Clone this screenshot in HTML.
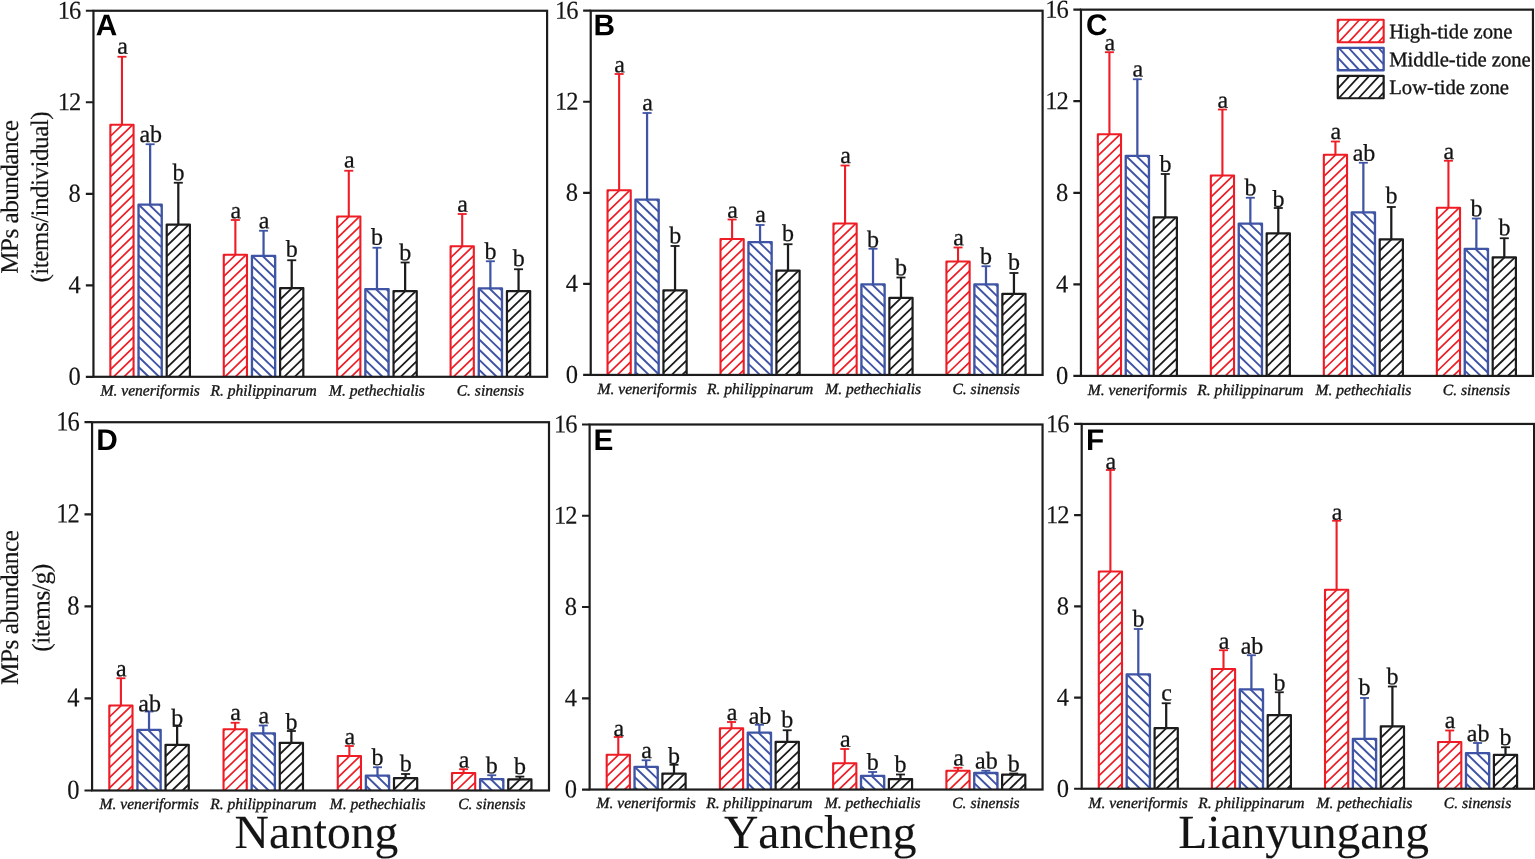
<!DOCTYPE html>
<html lang="en"><head><meta charset="utf-8"><title>MPs abundance in bivalves</title>
<style>html,body{margin:0;padding:0;background:#fff;}body{width:1535px;height:859px;overflow:hidden;}svg{display:block;}text{font-family:'Liberation Serif', 'Times New Roman', serif;fill:#141414;stroke:#141414;stroke-width:0.35px;stroke-linejoin:round;font-kerning:none;}.tk{font-size:25.8px;text-anchor:end;letter-spacing:-1.1px;stroke-width:0.15px;}.lt{font-size:24px;text-anchor:middle;stroke-width:0.25px;}.xl{font-size:15.55px;font-style:italic;text-anchor:middle;}.yl{font-size:24px;text-anchor:middle;stroke-width:0.15px;}.pl{font-family:'Liberation Sans', Arial, sans-serif;font-weight:bold;font-size:29.8px;fill:#000;stroke:none;}.lg{font-size:20.65px;}.ct{font-size:47.5px;text-anchor:middle;stroke-width:0.12px;}</style></head><body>
<svg width="1535" height="859" viewBox="0 0 1535 859">
<rect width="1535" height="859" fill="#fff"/>
<g id="panel-A">
<path d="M121.96 124.8V56.35" stroke="#ee1c25" stroke-width="2.1" fill="none"/><path d="M117.46 56.75H126.46" stroke="#ee1c25" stroke-width="1.8" fill="none"/>
<path d="M110.36 126.1L111.7 124.8M110.36 136.25L122.16 124.8M110.36 146.4L132.63 124.8M110.36 156.55L133.56 134.05M110.36 166.7L133.56 144.2M110.36 176.85L133.56 154.35M110.36 187L133.56 164.5M110.36 197.15L133.56 174.65M110.36 207.3L133.56 184.8M110.36 217.45L133.56 194.95M110.36 227.6L133.56 205.1M110.36 237.75L133.56 215.25M110.36 247.9L133.56 225.4M110.36 258.05L133.56 235.55M110.36 268.2L133.56 245.7M110.36 278.35L133.56 255.85M110.36 288.5L133.56 266M110.36 298.65L133.56 276.15M110.36 308.8L133.56 286.3M110.36 318.95L133.56 296.45M110.36 329.1L133.56 306.6M110.36 339.25L133.56 316.75M110.36 349.4L133.56 326.9M110.36 359.55L133.56 337.05M110.36 369.7L133.56 347.2M113.5 376.8L133.56 357.35M123.97 376.8L133.56 367.5" stroke="#ee1c25" stroke-width="1.7" fill="none"/>
<path d="M110.36 376.8V124.8H133.56V376.8" stroke="#ee1c25" stroke-width="2.1" fill="none" stroke-linejoin="round"/>
<text class="lt" transform="translate(122.46 53.75) rotate(0.03)">a</text>
<path d="M150.14 204.55V143.85" stroke="#3f54a5" stroke-width="2.25" fill="none"/><path d="M145.64 144.25H154.64" stroke="#3f54a5" stroke-width="1.8" fill="none"/>
<path d="M159.46 204.55L161.74 206.75M149 204.55L161.74 216.9M138.54 204.55L161.74 227.05M138.54 214.7L161.74 237.2M138.54 224.85L161.74 247.35M138.54 235L161.74 257.5M138.54 245.15L161.74 267.65M138.54 255.3L161.74 277.8M138.54 265.45L161.74 287.95M138.54 275.6L161.74 298.1M138.54 285.75L161.74 308.25M138.54 295.9L161.74 318.4M138.54 306.05L161.74 328.55M138.54 316.2L161.74 338.7M138.54 326.35L161.74 348.85M138.54 336.5L161.74 359M138.54 346.65L161.74 369.15M138.54 356.8L159.15 376.8M138.54 366.95L148.69 376.8" stroke="#3f54a5" stroke-width="1.9" fill="none"/>
<path d="M138.54 376.8V204.55H161.74V376.8" stroke="#3f54a5" stroke-width="2.35" fill="none" stroke-linejoin="round"/>
<text class="lt" transform="translate(150.74 141.95) rotate(0.03)">ab</text>
<path d="M178.31 224.55V182.35" stroke="#1c1c1c" stroke-width="2.25" fill="none"/><path d="M173.81 182.75H182.81" stroke="#1c1c1c" stroke-width="1.8" fill="none"/>
<path d="M166.71 225.85L168.05 224.55M166.71 236L178.52 224.55M166.71 246.15L188.98 224.55M166.71 256.3L189.91 233.8M166.71 266.45L189.91 243.95M166.71 276.6L189.91 254.1M166.71 286.75L189.91 264.25M166.71 296.9L189.91 274.4M166.71 307.05L189.91 284.55M166.71 317.2L189.91 294.7M166.71 327.35L189.91 304.85M166.71 337.5L189.91 315M166.71 347.65L189.91 325.15M166.71 357.8L189.91 335.3M166.71 367.95L189.91 345.45M168.05 376.8L189.91 355.6M178.52 376.8L189.91 365.75M188.98 376.8L189.91 375.9" stroke="#1c1c1c" stroke-width="1.8" fill="none"/>
<path d="M166.71 376.8V224.55H189.91V376.8" stroke="#1c1c1c" stroke-width="2.2" fill="none" stroke-linejoin="round"/>
<text class="lt" transform="translate(178.41 180.15) rotate(0.03)">b</text>
<path d="M235.37 254.8V219.6" stroke="#ee1c25" stroke-width="2.1" fill="none"/><path d="M230.87 220H239.87" stroke="#ee1c25" stroke-width="1.8" fill="none"/>
<path d="M223.77 256.1L225.11 254.8M223.77 266.25L235.58 254.8M223.77 276.4L246.04 254.8M223.77 286.55L246.97 264.05M223.77 296.7L246.97 274.2M223.77 306.85L246.97 284.35M223.77 317L246.97 294.5M223.77 327.15L246.97 304.65M223.77 337.3L246.97 314.8M223.77 347.45L246.97 324.95M223.77 357.6L246.97 335.1M223.77 367.75L246.97 345.25M224.91 376.8L246.97 355.4M235.37 376.8L246.97 365.55M245.83 376.8L246.97 375.7" stroke="#ee1c25" stroke-width="1.7" fill="none"/>
<path d="M223.77 376.8V254.8H246.97V376.8" stroke="#ee1c25" stroke-width="2.1" fill="none" stroke-linejoin="round"/>
<text class="lt" transform="translate(235.87 218.15) rotate(0.03)">a</text>
<path d="M263.55 255.8V230.35" stroke="#3f54a5" stroke-width="2.25" fill="none"/><path d="M259.05 230.75H268.05" stroke="#3f54a5" stroke-width="1.8" fill="none"/>
<path d="M272.88 255.8L275.15 258M262.41 255.8L275.15 268.15M251.95 255.8L275.15 278.3M251.95 265.95L275.15 288.45M251.95 276.1L275.15 298.6M251.95 286.25L275.15 308.75M251.95 296.4L275.15 318.9M251.95 306.55L275.15 329.05M251.95 316.7L275.15 339.2M251.95 326.85L275.15 349.35M251.95 337L275.15 359.5M251.95 347.15L275.15 369.65M251.95 357.3L272.05 376.8M251.95 367.45L261.59 376.8" stroke="#3f54a5" stroke-width="1.9" fill="none"/>
<path d="M251.95 376.8V255.8H275.15V376.8" stroke="#3f54a5" stroke-width="2.35" fill="none" stroke-linejoin="round"/>
<text class="lt" transform="translate(264.05 228.15) rotate(0.03)">a</text>
<path d="M291.72 288.05V259.85" stroke="#1c1c1c" stroke-width="2.25" fill="none"/><path d="M287.22 260.25H296.22" stroke="#1c1c1c" stroke-width="1.8" fill="none"/>
<path d="M280.12 289.35L281.47 288.05M280.12 299.5L291.93 288.05M280.12 309.65L302.39 288.05M280.12 319.8L303.32 297.3M280.12 329.95L303.32 307.45M280.12 340.1L303.32 317.6M280.12 350.25L303.32 327.75M280.12 360.4L303.32 337.9M280.12 370.55L303.32 348.05M284.15 376.8L303.32 358.2M294.61 376.8L303.32 368.35" stroke="#1c1c1c" stroke-width="1.8" fill="none"/>
<path d="M280.12 376.8V288.05H303.32V376.8" stroke="#1c1c1c" stroke-width="2.2" fill="none" stroke-linejoin="round"/>
<text class="lt" transform="translate(291.82 256.65) rotate(0.03)">b</text>
<path d="M348.78 216.55V170.35" stroke="#ee1c25" stroke-width="2.1" fill="none"/><path d="M344.28 170.75H353.28" stroke="#ee1c25" stroke-width="1.8" fill="none"/>
<path d="M337.18 217.85L338.53 216.55M337.18 228L348.99 216.55M337.18 238.15L359.45 216.55M337.18 248.3L360.38 225.8M337.18 258.45L360.38 235.95M337.18 268.6L360.38 246.1M337.18 278.75L360.38 256.25M337.18 288.9L360.38 266.4M337.18 299.05L360.38 276.55M337.18 309.2L360.38 286.7M337.18 319.35L360.38 296.85M337.18 329.5L360.38 307M337.18 339.65L360.38 317.15M337.18 349.8L360.38 327.3M337.18 359.95L360.38 337.45M337.18 370.1L360.38 347.6M340.74 376.8L360.38 357.75M351.21 376.8L360.38 367.9" stroke="#ee1c25" stroke-width="1.7" fill="none"/>
<path d="M337.18 376.8V216.55H360.38V376.8" stroke="#ee1c25" stroke-width="2.1" fill="none" stroke-linejoin="round"/>
<text class="lt" transform="translate(349.28 167.45) rotate(0.03)">a</text>
<path d="M376.96 289.05V247.35" stroke="#3f54a5" stroke-width="2.25" fill="none"/><path d="M372.46 247.75H381.46" stroke="#3f54a5" stroke-width="1.8" fill="none"/>
<path d="M386.29 289.05L388.56 291.25M375.83 289.05L388.56 301.4M365.36 289.05L388.56 311.55M365.36 299.2L388.56 321.7M365.36 309.35L388.56 331.85M365.36 319.5L388.56 342M365.36 329.65L388.56 352.15M365.36 339.8L388.56 362.3M365.36 349.95L388.56 372.45M365.36 360.1L382.58 376.8M365.36 370.25L372.11 376.8" stroke="#3f54a5" stroke-width="1.9" fill="none"/>
<path d="M365.36 376.8V289.05H388.56V376.8" stroke="#3f54a5" stroke-width="2.35" fill="none" stroke-linejoin="round"/>
<text class="lt" transform="translate(377.06 244.65) rotate(0.03)">b</text>
<path d="M405.14 291.05V262.1" stroke="#1c1c1c" stroke-width="2.25" fill="none"/><path d="M400.64 262.5H409.64" stroke="#1c1c1c" stroke-width="1.8" fill="none"/>
<path d="M393.54 292.35L394.88 291.05M393.54 302.5L405.34 291.05M393.54 312.65L415.81 291.05M393.54 322.8L416.74 300.3M393.54 332.95L416.74 310.45M393.54 343.1L416.74 320.6M393.54 353.25L416.74 330.75M393.54 363.4L416.74 340.9M393.54 373.55L416.74 351.05M400.65 376.8L416.74 361.2M411.11 376.8L416.74 371.35" stroke="#1c1c1c" stroke-width="1.8" fill="none"/>
<path d="M393.54 376.8V291.05H416.74V376.8" stroke="#1c1c1c" stroke-width="2.2" fill="none" stroke-linejoin="round"/>
<text class="lt" transform="translate(405.24 260.15) rotate(0.03)">b</text>
<path d="M462.2 246.3V213.6" stroke="#ee1c25" stroke-width="2.1" fill="none"/><path d="M457.7 214H466.7" stroke="#ee1c25" stroke-width="1.8" fill="none"/>
<path d="M450.6 247.6L451.94 246.3M450.6 257.75L462.4 246.3M450.6 267.9L472.87 246.3M450.6 278.05L473.8 255.55M450.6 288.2L473.8 265.7M450.6 298.35L473.8 275.85M450.6 308.5L473.8 286M450.6 318.65L473.8 296.15M450.6 328.8L473.8 306.3M450.6 338.95L473.8 316.45M450.6 349.1L473.8 326.6M450.6 359.25L473.8 336.75M450.6 369.4L473.8 346.9M453.43 376.8L473.8 357.05M463.9 376.8L473.8 367.2" stroke="#ee1c25" stroke-width="1.7" fill="none"/>
<path d="M450.6 376.8V246.3H473.8V376.8" stroke="#ee1c25" stroke-width="2.1" fill="none" stroke-linejoin="round"/>
<text class="lt" transform="translate(462.7 211.65) rotate(0.03)">a</text>
<path d="M490.37 288.3V260.85" stroke="#3f54a5" stroke-width="2.25" fill="none"/><path d="M485.87 261.25H494.87" stroke="#3f54a5" stroke-width="1.8" fill="none"/>
<path d="M499.7 288.3L501.97 290.5M489.24 288.3L501.97 300.65M478.77 288.3L501.97 310.8M478.77 298.45L501.97 320.95M478.77 308.6L501.97 331.1M478.77 318.75L501.97 341.25M478.77 328.9L501.97 351.4M478.77 339.05L501.97 361.55M478.77 349.2L501.97 371.7M478.77 359.35L496.76 376.8M478.77 369.5L486.3 376.8" stroke="#3f54a5" stroke-width="1.9" fill="none"/>
<path d="M478.77 376.8V288.3H501.97V376.8" stroke="#3f54a5" stroke-width="2.35" fill="none" stroke-linejoin="round"/>
<text class="lt" transform="translate(490.47 258.9) rotate(0.03)">b</text>
<path d="M518.55 291.05V268.85" stroke="#1c1c1c" stroke-width="2.25" fill="none"/><path d="M514.05 269.25H523.05" stroke="#1c1c1c" stroke-width="1.8" fill="none"/>
<path d="M506.95 292.35L508.29 291.05M506.95 302.5L518.75 291.05M506.95 312.65L529.22 291.05M506.95 322.8L530.15 300.3M506.95 332.95L530.15 310.45M506.95 343.1L530.15 320.6M506.95 353.25L530.15 330.75M506.95 363.4L530.15 340.9M506.95 373.55L530.15 351.05M514.06 376.8L530.15 361.2M524.53 376.8L530.15 371.35" stroke="#1c1c1c" stroke-width="1.8" fill="none"/>
<path d="M506.95 376.8V291.05H530.15V376.8" stroke="#1c1c1c" stroke-width="2.2" fill="none" stroke-linejoin="round"/>
<text class="lt" transform="translate(518.65 265.9) rotate(0.03)">b</text>
<rect x="93.45" y="10.76" width="453.65" height="366.04" fill="none" stroke="#1c1c1c" stroke-width="2.2"/>
<path d="M85.85 10.76H93.45M85.85 102.27H93.45M85.85 193.78H93.45M85.85 285.29H93.45M85.85 376.8H93.45" stroke="#1c1c1c" stroke-width="2.2" fill="none"/>
<text class="tk" transform="translate(80.2 18.76) rotate(0.03) scale(0.95 1)">16</text>
<text class="tk" transform="translate(80.2 110.27) rotate(0.03) scale(0.95 1)">12</text>
<text class="tk" transform="translate(79.75 201.78) rotate(0.03) scale(0.95 1)">8</text>
<text class="tk" transform="translate(79.75 293.29) rotate(0.03) scale(0.95 1)">4</text>
<text class="tk" transform="translate(79.75 384.8) rotate(0.03) scale(0.95 1)">0</text>
<text class="xl" transform="translate(150.16 395.5) rotate(0.03)">M. veneriformis</text>
<text class="xl" transform="translate(263.57 395.5) rotate(0.03)">R. philippinarum</text>
<text class="xl" transform="translate(376.98 395.5) rotate(0.03)">M. pethechialis</text>
<text class="xl" transform="translate(490.39 395.5) rotate(0.03)">C. sinensis</text>
<text class="pl" transform="translate(95.65 35.3) rotate(0.03)">A</text>
</g>
<g id="panel-B">
<path d="M619.13 190.3V73.6" stroke="#ee1c25" stroke-width="2.1" fill="none"/><path d="M614.63 74H623.63" stroke="#ee1c25" stroke-width="1.8" fill="none"/>
<path d="M607.53 191.6L608.87 190.3M607.53 201.75L619.33 190.3M607.53 211.9L629.8 190.3M607.53 222.05L630.73 199.55M607.53 232.2L630.73 209.7M607.53 242.35L630.73 219.85M607.53 252.5L630.73 230M607.53 262.65L630.73 240.15M607.53 272.8L630.73 250.3M607.53 282.95L630.73 260.45M607.53 293.1L630.73 270.6M607.53 303.25L630.73 280.75M607.53 313.4L630.73 290.9M607.53 323.55L630.73 301.05M607.53 333.7L630.73 311.2M607.53 343.85L630.73 321.35M607.53 354L630.73 331.5M607.53 364.15L630.73 341.65M607.53 374.3L630.73 351.8M617.34 374.93L630.73 361.95M627.81 374.93L630.73 372.1" stroke="#ee1c25" stroke-width="1.7" fill="none"/>
<path d="M607.53 374.93V190.3H630.73V374.93" stroke="#ee1c25" stroke-width="2.1" fill="none" stroke-linejoin="round"/>
<text class="lt" transform="translate(619.63 72.15) rotate(0.03)">a</text>
<path d="M647.08 199.55V112.6" stroke="#3f54a5" stroke-width="2.25" fill="none"/><path d="M642.58 113H651.58" stroke="#3f54a5" stroke-width="1.8" fill="none"/>
<path d="M656.41 199.55L658.68 201.75M645.95 199.55L658.68 211.9M635.48 199.55L658.68 222.05M635.48 209.7L658.68 232.2M635.48 219.85L658.68 242.35M635.48 230L658.68 252.5M635.48 240.15L658.68 262.65M635.48 250.3L658.68 272.8M635.48 260.45L658.68 282.95M635.48 270.6L658.68 293.1M635.48 280.75L658.68 303.25M635.48 290.9L658.68 313.4M635.48 301.05L658.68 323.55M635.48 311.2L658.68 333.7M635.48 321.35L658.68 343.85M635.48 331.5L658.68 354M635.48 341.65L658.68 364.15M635.48 351.8L658.68 374.3M635.48 361.95L648.87 374.93M635.48 372.1L638.4 374.93" stroke="#3f54a5" stroke-width="1.9" fill="none"/>
<path d="M635.48 374.93V199.55H658.68V374.93" stroke="#3f54a5" stroke-width="2.35" fill="none" stroke-linejoin="round"/>
<text class="lt" transform="translate(647.58 110.15) rotate(0.03)">a</text>
<path d="M675.04 290.3V245.6" stroke="#1c1c1c" stroke-width="2.25" fill="none"/><path d="M670.54 246H679.54" stroke="#1c1c1c" stroke-width="1.8" fill="none"/>
<path d="M663.44 291.6L664.78 290.3M663.44 301.75L675.24 290.3M663.44 311.9L685.71 290.3M663.44 322.05L686.64 299.55M663.44 332.2L686.64 309.7M663.44 342.35L686.64 319.85M663.44 352.5L686.64 330M663.44 362.65L686.64 340.15M663.44 372.8L686.64 350.3M671.71 374.93L686.64 360.45M682.17 374.93L686.64 370.6" stroke="#1c1c1c" stroke-width="1.8" fill="none"/>
<path d="M663.44 374.93V290.3H686.64V374.93" stroke="#1c1c1c" stroke-width="2.2" fill="none" stroke-linejoin="round"/>
<text class="lt" transform="translate(675.14 243.15) rotate(0.03)">b</text>
<path d="M732.1 239.05V219.1" stroke="#ee1c25" stroke-width="2.1" fill="none"/><path d="M727.6 219.5H736.6" stroke="#ee1c25" stroke-width="1.8" fill="none"/>
<path d="M720.5 240.35L721.84 239.05M720.5 250.5L732.3 239.05M720.5 260.65L742.77 239.05M720.5 270.8L743.7 248.3M720.5 280.95L743.7 258.45M720.5 291.1L743.7 268.6M720.5 301.25L743.7 278.75M720.5 311.4L743.7 288.9M720.5 321.55L743.7 299.05M720.5 331.7L743.7 309.2M720.5 341.85L743.7 319.35M720.5 352L743.7 329.5M720.5 362.15L743.7 339.65M720.5 372.3L743.7 349.8M728.25 374.93L743.7 359.95M738.71 374.93L743.7 370.1" stroke="#ee1c25" stroke-width="1.7" fill="none"/>
<path d="M720.5 374.93V239.05H743.7V374.93" stroke="#ee1c25" stroke-width="2.1" fill="none" stroke-linejoin="round"/>
<text class="lt" transform="translate(732.6 217.65) rotate(0.03)">a</text>
<path d="M760.05 242.05V224.6" stroke="#3f54a5" stroke-width="2.25" fill="none"/><path d="M755.55 225H764.55" stroke="#3f54a5" stroke-width="1.8" fill="none"/>
<path d="M769.38 242.05L771.65 244.25M758.92 242.05L771.65 254.4M748.45 242.05L771.65 264.55M748.45 252.2L771.65 274.7M748.45 262.35L771.65 284.85M748.45 272.5L771.65 295M748.45 282.65L771.65 305.15M748.45 292.8L771.65 315.3M748.45 302.95L771.65 325.45M748.45 313.1L771.65 335.6M748.45 323.25L771.65 345.75M748.45 333.4L771.65 355.9M748.45 343.55L771.65 366.05M748.45 353.7L770.34 374.93M748.45 363.85L759.87 374.93M748.45 374L749.41 374.93" stroke="#3f54a5" stroke-width="1.9" fill="none"/>
<path d="M748.45 374.93V242.05H771.65V374.93" stroke="#3f54a5" stroke-width="2.35" fill="none" stroke-linejoin="round"/>
<text class="lt" transform="translate(760.55 221.9) rotate(0.03)">a</text>
<path d="M788.01 270.55V243.85" stroke="#1c1c1c" stroke-width="2.25" fill="none"/><path d="M783.51 244.25H792.51" stroke="#1c1c1c" stroke-width="1.8" fill="none"/>
<path d="M776.41 271.85L777.75 270.55M776.41 282L788.21 270.55M776.41 292.15L798.67 270.55M776.41 302.3L799.61 279.8M776.41 312.45L799.61 289.95M776.41 322.6L799.61 300.1M776.41 332.75L799.61 310.25M776.41 342.9L799.61 320.4M776.41 353.05L799.61 330.55M776.41 363.2L799.61 340.7M776.41 373.35L799.61 350.85M785.24 374.93L799.61 361M795.7 374.93L799.61 371.15" stroke="#1c1c1c" stroke-width="1.8" fill="none"/>
<path d="M776.41 374.93V270.55H799.61V374.93" stroke="#1c1c1c" stroke-width="2.2" fill="none" stroke-linejoin="round"/>
<text class="lt" transform="translate(788.11 240.9) rotate(0.03)">b</text>
<path d="M845.06 223.55V165.1" stroke="#ee1c25" stroke-width="2.1" fill="none"/><path d="M840.56 165.5H849.56" stroke="#ee1c25" stroke-width="1.8" fill="none"/>
<path d="M833.46 224.85L834.81 223.55M833.46 235L845.27 223.55M833.46 245.15L855.73 223.55M833.46 255.3L856.66 232.8M833.46 265.45L856.66 242.95M833.46 275.6L856.66 253.1M833.46 285.75L856.66 263.25M833.46 295.9L856.66 273.4M833.46 306.05L856.66 283.55M833.46 316.2L856.66 293.7M833.46 326.35L856.66 303.85M833.46 336.5L856.66 314M833.46 346.65L856.66 324.15M833.46 356.8L856.66 334.3M833.46 366.95L856.66 344.45M835.7 374.93L856.66 354.6M846.17 374.93L856.66 364.75" stroke="#ee1c25" stroke-width="1.7" fill="none"/>
<path d="M833.46 374.93V223.55H856.66V374.93" stroke="#ee1c25" stroke-width="2.1" fill="none" stroke-linejoin="round"/>
<text class="lt" transform="translate(845.56 162.9) rotate(0.03)">a</text>
<path d="M873.02 284.3V248.35" stroke="#3f54a5" stroke-width="2.25" fill="none"/><path d="M868.52 248.75H877.52" stroke="#3f54a5" stroke-width="1.8" fill="none"/>
<path d="M882.35 284.3L884.62 286.5M871.88 284.3L884.62 296.65M861.42 284.3L884.62 306.8M861.42 294.45L884.62 316.95M861.42 304.6L884.62 327.1M861.42 314.75L884.62 337.25M861.42 324.9L884.62 347.4M861.42 335.05L884.62 357.55M861.42 345.2L884.62 367.7M861.42 355.35L881.6 374.93M861.42 365.5L871.14 374.93" stroke="#3f54a5" stroke-width="1.9" fill="none"/>
<path d="M861.42 374.93V284.3H884.62V374.93" stroke="#3f54a5" stroke-width="2.35" fill="none" stroke-linejoin="round"/>
<text class="lt" transform="translate(873.12 247.15) rotate(0.03)">b</text>
<path d="M900.97 297.8V277.1" stroke="#1c1c1c" stroke-width="2.25" fill="none"/><path d="M896.47 277.5H905.47" stroke="#1c1c1c" stroke-width="1.8" fill="none"/>
<path d="M889.37 299.1L890.71 297.8M889.37 309.25L901.18 297.8M889.37 319.4L911.64 297.8M889.37 329.55L912.57 307.05M889.37 339.7L912.57 317.2M889.37 349.85L912.57 327.35M889.37 360L912.57 337.5M889.37 370.15L912.57 347.65M894.91 374.93L912.57 357.8M905.37 374.93L912.57 367.95" stroke="#1c1c1c" stroke-width="1.8" fill="none"/>
<path d="M889.37 374.93V297.8H912.57V374.93" stroke="#1c1c1c" stroke-width="2.2" fill="none" stroke-linejoin="round"/>
<text class="lt" transform="translate(901.07 275.15) rotate(0.03)">b</text>
<path d="M958.03 261.55V247.1" stroke="#ee1c25" stroke-width="2.1" fill="none"/><path d="M953.53 247.5H962.53" stroke="#ee1c25" stroke-width="1.8" fill="none"/>
<path d="M946.43 262.85L947.77 261.55M946.43 273L958.24 261.55M946.43 283.15L968.7 261.55M946.43 293.3L969.63 270.8M946.43 303.45L969.63 280.95M946.43 313.6L969.63 291.1M946.43 323.75L969.63 301.25M946.43 333.9L969.63 311.4M946.43 344.05L969.63 321.55M946.43 354.2L969.63 331.7M946.43 364.35L969.63 341.85M946.43 374.5L969.63 352M956.45 374.93L969.63 362.15M966.92 374.93L969.63 372.3" stroke="#ee1c25" stroke-width="1.7" fill="none"/>
<path d="M946.43 374.93V261.55H969.63V374.93" stroke="#ee1c25" stroke-width="2.1" fill="none" stroke-linejoin="round"/>
<text class="lt" transform="translate(958.53 245.15) rotate(0.03)">a</text>
<path d="M985.99 284.3V265.85" stroke="#3f54a5" stroke-width="2.25" fill="none"/><path d="M981.49 266.25H990.49" stroke="#3f54a5" stroke-width="1.8" fill="none"/>
<path d="M995.31 284.3L997.59 286.5M984.85 284.3L997.59 296.65M974.39 284.3L997.59 306.8M974.39 294.45L997.59 316.95M974.39 304.6L997.59 327.1M974.39 314.75L997.59 337.25M974.39 324.9L997.59 347.4M974.39 335.05L997.59 357.55M974.39 345.2L997.59 367.7M974.39 355.35L994.57 374.93M974.39 365.5L984.11 374.93" stroke="#3f54a5" stroke-width="1.9" fill="none"/>
<path d="M974.39 374.93V284.3H997.59V374.93" stroke="#3f54a5" stroke-width="2.35" fill="none" stroke-linejoin="round"/>
<text class="lt" transform="translate(986.09 263.9) rotate(0.03)">b</text>
<path d="M1013.94 293.8V272.6" stroke="#1c1c1c" stroke-width="2.25" fill="none"/><path d="M1009.44 273H1018.44" stroke="#1c1c1c" stroke-width="1.8" fill="none"/>
<path d="M1002.34 295.1L1003.68 293.8M1002.34 305.25L1014.14 293.8M1002.34 315.4L1024.61 293.8M1002.34 325.55L1025.54 303.05M1002.34 335.7L1025.54 313.2M1002.34 345.85L1025.54 323.35M1002.34 356L1025.54 333.5M1002.34 366.15L1025.54 343.65M1003.75 374.93L1025.54 353.8M1014.22 374.93L1025.54 363.95M1024.68 374.93L1025.54 374.1" stroke="#1c1c1c" stroke-width="1.8" fill="none"/>
<path d="M1002.34 374.93V293.8H1025.54V374.93" stroke="#1c1c1c" stroke-width="2.2" fill="none" stroke-linejoin="round"/>
<text class="lt" transform="translate(1014.04 269.65) rotate(0.03)">b</text>
<rect x="590.73" y="10.7" width="451.87" height="364.23" fill="none" stroke="#1c1c1c" stroke-width="2.2"/>
<path d="M583.13 10.7H590.73M583.13 101.76H590.73M583.13 192.81H590.73M583.13 283.87H590.73M583.13 374.93H590.73" stroke="#1c1c1c" stroke-width="2.2" fill="none"/>
<text class="tk" transform="translate(577.48 18.7) rotate(0.03) scale(0.95 1)">16</text>
<text class="tk" transform="translate(577.48 109.76) rotate(0.03) scale(0.95 1)">12</text>
<text class="tk" transform="translate(577.03 200.81) rotate(0.03) scale(0.95 1)">8</text>
<text class="tk" transform="translate(577.03 291.87) rotate(0.03) scale(0.95 1)">4</text>
<text class="tk" transform="translate(577.03 382.93) rotate(0.03) scale(0.95 1)">0</text>
<text class="xl" transform="translate(647.21 394) rotate(0.03)">M. veneriformis</text>
<text class="xl" transform="translate(760.18 394) rotate(0.03)">R. philippinarum</text>
<text class="xl" transform="translate(873.15 394) rotate(0.03)">M. pethechialis</text>
<text class="xl" transform="translate(986.12 394) rotate(0.03)">C. sinensis</text>
<text class="pl" transform="translate(593.6 35.3) rotate(0.03)">B</text>
</g>
<g id="panel-C">
<path d="M1109.42 134.3V51.8" stroke="#ee1c25" stroke-width="2.1" fill="none"/><path d="M1104.92 52.2H1113.92" stroke="#ee1c25" stroke-width="1.8" fill="none"/>
<path d="M1097.82 135.6L1099.16 134.3M1097.82 145.75L1109.62 134.3M1097.82 155.9L1120.09 134.3M1097.82 166.05L1121.02 143.55M1097.82 176.2L1121.02 153.7M1097.82 186.35L1121.02 163.85M1097.82 196.5L1121.02 174M1097.82 206.65L1121.02 184.15M1097.82 216.8L1121.02 194.3M1097.82 226.95L1121.02 204.45M1097.82 237.1L1121.02 214.6M1097.82 247.25L1121.02 224.75M1097.82 257.4L1121.02 234.9M1097.82 267.55L1121.02 245.05M1097.82 277.7L1121.02 255.2M1097.82 287.85L1121.02 265.35M1097.82 298L1121.02 275.5M1097.82 308.15L1121.02 285.65M1097.82 318.3L1121.02 295.8M1097.82 328.45L1121.02 305.95M1097.82 338.6L1121.02 316.1M1097.82 348.75L1121.02 326.25M1097.82 358.9L1121.02 336.4M1097.82 369.05L1121.02 346.55M1101.2 375.92L1121.02 356.7M1111.67 375.92L1121.02 366.85" stroke="#ee1c25" stroke-width="1.7" fill="none"/>
<path d="M1097.82 375.92V134.3H1121.02V375.92" stroke="#ee1c25" stroke-width="2.1" fill="none" stroke-linejoin="round"/>
<text class="lt" transform="translate(1109.92 50.25) rotate(0.03)">a</text>
<path d="M1137.35 155.8V78.85" stroke="#3f54a5" stroke-width="2.25" fill="none"/><path d="M1132.85 79.25H1141.85" stroke="#3f54a5" stroke-width="1.8" fill="none"/>
<path d="M1146.68 155.8L1148.95 158M1136.21 155.8L1148.95 168.15M1125.75 155.8L1148.95 178.3M1125.75 165.95L1148.95 188.45M1125.75 176.1L1148.95 198.6M1125.75 186.25L1148.95 208.75M1125.75 196.4L1148.95 218.9M1125.75 206.55L1148.95 229.05M1125.75 216.7L1148.95 239.2M1125.75 226.85L1148.95 249.35M1125.75 237L1148.95 259.5M1125.75 247.15L1148.95 269.65M1125.75 257.3L1148.95 279.8M1125.75 267.45L1148.95 289.95M1125.75 277.6L1148.95 300.1M1125.75 287.75L1148.95 310.25M1125.75 297.9L1148.95 320.4M1125.75 308.05L1148.95 330.55M1125.75 318.2L1148.95 340.7M1125.75 328.35L1148.95 350.85M1125.75 338.5L1148.95 361M1125.75 348.65L1148.95 371.15M1125.75 358.8L1143.4 375.92M1125.75 368.95L1132.93 375.92" stroke="#3f54a5" stroke-width="1.9" fill="none"/>
<path d="M1125.75 375.92V155.8H1148.95V375.92" stroke="#3f54a5" stroke-width="2.35" fill="none" stroke-linejoin="round"/>
<text class="lt" transform="translate(1137.85 76.4) rotate(0.03)">a</text>
<path d="M1165.28 217.3V173.6" stroke="#1c1c1c" stroke-width="2.25" fill="none"/><path d="M1160.78 174H1169.78" stroke="#1c1c1c" stroke-width="1.8" fill="none"/>
<path d="M1153.68 218.6L1155.02 217.3M1153.68 228.75L1165.48 217.3M1153.68 238.9L1175.94 217.3M1153.68 249.05L1176.88 226.55M1153.68 259.2L1176.88 236.7M1153.68 269.35L1176.88 246.85M1153.68 279.5L1176.88 257M1153.68 289.65L1176.88 267.15M1153.68 299.8L1176.88 277.3M1153.68 309.95L1176.88 287.45M1153.68 320.1L1176.88 297.6M1153.68 330.25L1176.88 307.75M1153.68 340.4L1176.88 317.9M1153.68 350.55L1176.88 328.05M1153.68 360.7L1176.88 338.2M1153.68 370.85L1176.88 348.35M1158.91 375.92L1176.88 358.5M1169.38 375.92L1176.88 368.65" stroke="#1c1c1c" stroke-width="1.8" fill="none"/>
<path d="M1153.68 375.92V217.3H1176.88V375.92" stroke="#1c1c1c" stroke-width="2.2" fill="none" stroke-linejoin="round"/>
<text class="lt" transform="translate(1165.38 171.65) rotate(0.03)">b</text>
<path d="M1222.42 175.55V109.1" stroke="#ee1c25" stroke-width="2.1" fill="none"/><path d="M1217.92 109.5H1226.92" stroke="#ee1c25" stroke-width="1.8" fill="none"/>
<path d="M1210.83 176.85L1212.17 175.55M1210.83 187L1222.63 175.55M1210.83 197.15L1233.09 175.55M1210.83 207.3L1234.02 184.8M1210.83 217.45L1234.02 194.95M1210.83 227.6L1234.02 205.1M1210.83 237.75L1234.02 215.25M1210.83 247.9L1234.02 225.4M1210.83 258.05L1234.02 235.55M1210.83 268.2L1234.02 245.7M1210.83 278.35L1234.02 255.85M1210.83 288.5L1234.02 266M1210.83 298.65L1234.02 276.15M1210.83 308.8L1234.02 286.3M1210.83 318.95L1234.02 296.45M1210.83 329.1L1234.02 306.6M1210.83 339.25L1234.02 316.75M1210.83 349.4L1234.02 326.9M1210.83 359.55L1234.02 337.05M1210.83 369.7L1234.02 347.2M1214.88 375.92L1234.02 357.35M1225.34 375.92L1234.02 367.5" stroke="#ee1c25" stroke-width="1.7" fill="none"/>
<path d="M1210.83 375.92V175.55H1234.02V375.92" stroke="#ee1c25" stroke-width="2.1" fill="none" stroke-linejoin="round"/>
<text class="lt" transform="translate(1222.92 107.65) rotate(0.03)">a</text>
<path d="M1250.35 223.55V197.35" stroke="#3f54a5" stroke-width="2.25" fill="none"/><path d="M1245.85 197.75H1254.85" stroke="#3f54a5" stroke-width="1.8" fill="none"/>
<path d="M1259.68 223.55L1261.95 225.75M1249.22 223.55L1261.95 235.9M1238.75 223.55L1261.95 246.05M1238.75 233.7L1261.95 256.2M1238.75 243.85L1261.95 266.35M1238.75 254L1261.95 276.5M1238.75 264.15L1261.95 286.65M1238.75 274.3L1261.95 296.8M1238.75 284.45L1261.95 306.95M1238.75 294.6L1261.95 317.1M1238.75 304.75L1261.95 327.25M1238.75 314.9L1261.95 337.4M1238.75 325.05L1261.95 347.55M1238.75 335.2L1261.95 357.7M1238.75 345.35L1261.95 367.85M1238.75 355.5L1259.8 375.92M1238.75 365.65L1249.34 375.92" stroke="#3f54a5" stroke-width="1.9" fill="none"/>
<path d="M1238.75 375.92V223.55H1261.95V375.92" stroke="#3f54a5" stroke-width="2.35" fill="none" stroke-linejoin="round"/>
<text class="lt" transform="translate(1250.45 195.15) rotate(0.03)">b</text>
<path d="M1278.28 233.3V207.6" stroke="#1c1c1c" stroke-width="2.25" fill="none"/><path d="M1273.78 208H1282.78" stroke="#1c1c1c" stroke-width="1.8" fill="none"/>
<path d="M1266.68 234.6L1268.02 233.3M1266.68 244.75L1278.48 233.3M1266.68 254.9L1288.95 233.3M1266.68 265.05L1289.88 242.55M1266.68 275.2L1289.88 252.7M1266.68 285.35L1289.88 262.85M1266.68 295.5L1289.88 273M1266.68 305.65L1289.88 283.15M1266.68 315.8L1289.88 293.3M1266.68 325.95L1289.88 303.45M1266.68 336.1L1289.88 313.6M1266.68 346.25L1289.88 323.75M1266.68 356.4L1289.88 333.9M1266.68 366.55L1289.88 344.05M1267.48 375.92L1289.88 354.2M1277.95 375.92L1289.88 364.35M1288.41 375.92L1289.88 374.5" stroke="#1c1c1c" stroke-width="1.8" fill="none"/>
<path d="M1266.68 375.92V233.3H1289.88V375.92" stroke="#1c1c1c" stroke-width="2.2" fill="none" stroke-linejoin="round"/>
<text class="lt" transform="translate(1278.38 206.65) rotate(0.03)">b</text>
<path d="M1335.43 154.8V141.1" stroke="#ee1c25" stroke-width="2.1" fill="none"/><path d="M1330.93 141.5H1339.93" stroke="#ee1c25" stroke-width="1.8" fill="none"/>
<path d="M1323.83 156.1L1325.17 154.8M1323.83 166.25L1335.63 154.8M1323.83 176.4L1346.1 154.8M1323.83 186.55L1347.03 164.05M1323.83 196.7L1347.03 174.2M1323.83 206.85L1347.03 184.35M1323.83 217L1347.03 194.5M1323.83 227.15L1347.03 204.65M1323.83 237.3L1347.03 214.8M1323.83 247.45L1347.03 224.95M1323.83 257.6L1347.03 235.1M1323.83 267.75L1347.03 245.25M1323.83 277.9L1347.03 255.4M1323.83 288.05L1347.03 265.55M1323.83 298.2L1347.03 275.7M1323.83 308.35L1347.03 285.85M1323.83 318.5L1347.03 296M1323.83 328.65L1347.03 306.15M1323.83 338.8L1347.03 316.3M1323.83 348.95L1347.03 326.45M1323.83 359.1L1347.03 336.6M1323.83 369.25L1347.03 346.75M1327.42 375.92L1347.03 356.9M1337.88 375.92L1347.03 367.05" stroke="#ee1c25" stroke-width="1.7" fill="none"/>
<path d="M1323.83 375.92V154.8H1347.03V375.92" stroke="#ee1c25" stroke-width="2.1" fill="none" stroke-linejoin="round"/>
<text class="lt" transform="translate(1335.93 138.9) rotate(0.03)">a</text>
<path d="M1363.36 212.3V162.35" stroke="#3f54a5" stroke-width="2.25" fill="none"/><path d="M1358.86 162.75H1367.86" stroke="#3f54a5" stroke-width="1.8" fill="none"/>
<path d="M1372.69 212.3L1374.96 214.5M1362.22 212.3L1374.96 224.65M1351.76 212.3L1374.96 234.8M1351.76 222.45L1374.96 244.95M1351.76 232.6L1374.96 255.1M1351.76 242.75L1374.96 265.25M1351.76 252.9L1374.96 275.4M1351.76 263.05L1374.96 285.55M1351.76 273.2L1374.96 295.7M1351.76 283.35L1374.96 305.85M1351.76 293.5L1374.96 316M1351.76 303.65L1374.96 326.15M1351.76 313.8L1374.96 336.3M1351.76 323.95L1374.96 346.45M1351.76 334.1L1374.96 356.6M1351.76 344.25L1374.96 366.75M1351.76 354.4L1373.94 375.92M1351.76 364.55L1363.48 375.92M1351.76 374.7L1353.02 375.92" stroke="#3f54a5" stroke-width="1.9" fill="none"/>
<path d="M1351.76 375.92V212.3H1374.96V375.92" stroke="#3f54a5" stroke-width="2.35" fill="none" stroke-linejoin="round"/>
<text class="lt" transform="translate(1363.96 160.65) rotate(0.03)">ab</text>
<path d="M1391.29 239.3V206.6" stroke="#1c1c1c" stroke-width="2.25" fill="none"/><path d="M1386.79 207H1395.79" stroke="#1c1c1c" stroke-width="1.8" fill="none"/>
<path d="M1379.69 240.6L1381.03 239.3M1379.69 250.75L1391.49 239.3M1379.69 260.9L1401.95 239.3M1379.69 271.05L1402.88 248.55M1379.69 281.2L1402.88 258.7M1379.69 291.35L1402.88 268.85M1379.69 301.5L1402.88 279M1379.69 311.65L1402.88 289.15M1379.69 321.8L1402.88 299.3M1379.69 331.95L1402.88 309.45M1379.69 342.1L1402.88 319.6M1379.69 352.25L1402.88 329.75M1379.69 362.4L1402.88 339.9M1379.69 372.55L1402.88 350.05M1386.67 375.92L1402.88 360.2M1397.14 375.92L1402.88 370.35" stroke="#1c1c1c" stroke-width="1.8" fill="none"/>
<path d="M1379.69 375.92V239.3H1402.88V375.92" stroke="#1c1c1c" stroke-width="2.2" fill="none" stroke-linejoin="round"/>
<text class="lt" transform="translate(1391.38 203.15) rotate(0.03)">b</text>
<path d="M1448.44 207.8V160.35" stroke="#ee1c25" stroke-width="2.1" fill="none"/><path d="M1443.94 160.75H1452.94" stroke="#ee1c25" stroke-width="1.8" fill="none"/>
<path d="M1436.84 209.1L1438.18 207.8M1436.84 219.25L1448.64 207.8M1436.84 229.4L1459.1 207.8M1436.84 239.55L1460.04 217.05M1436.84 249.7L1460.04 227.2M1436.84 259.85L1460.04 237.35M1436.84 270L1460.04 247.5M1436.84 280.15L1460.04 257.65M1436.84 290.3L1460.04 267.8M1436.84 300.45L1460.04 277.95M1436.84 310.6L1460.04 288.1M1436.84 320.75L1460.04 298.25M1436.84 330.9L1460.04 308.4M1436.84 341.05L1460.04 318.55M1436.84 351.2L1460.04 328.7M1436.84 361.35L1460.04 338.85M1436.84 371.5L1460.04 349M1442.74 375.92L1460.04 359.15M1453.21 375.92L1460.04 369.3" stroke="#ee1c25" stroke-width="1.7" fill="none"/>
<path d="M1436.84 375.92V207.8H1460.04V375.92" stroke="#ee1c25" stroke-width="2.1" fill="none" stroke-linejoin="round"/>
<text class="lt" transform="translate(1448.94 158.9) rotate(0.03)">a</text>
<path d="M1476.36 248.8V218.1" stroke="#3f54a5" stroke-width="2.25" fill="none"/><path d="M1471.86 218.5H1480.86" stroke="#3f54a5" stroke-width="1.8" fill="none"/>
<path d="M1485.69 248.8L1487.96 251M1475.23 248.8L1487.96 261.15M1464.76 248.8L1487.96 271.3M1464.76 258.95L1487.96 281.45M1464.76 269.1L1487.96 291.6M1464.76 279.25L1487.96 301.75M1464.76 289.4L1487.96 311.9M1464.76 299.55L1487.96 322.05M1464.76 309.7L1487.96 332.2M1464.76 319.85L1487.96 342.35M1464.76 330L1487.96 352.5M1464.76 340.15L1487.96 362.65M1464.76 350.3L1487.96 372.8M1464.76 360.45L1480.71 375.92M1464.76 370.6L1470.25 375.92" stroke="#3f54a5" stroke-width="1.9" fill="none"/>
<path d="M1464.76 375.92V248.8H1487.96V375.92" stroke="#3f54a5" stroke-width="2.35" fill="none" stroke-linejoin="round"/>
<text class="lt" transform="translate(1476.46 216.15) rotate(0.03)">b</text>
<path d="M1504.29 257.3V237.85" stroke="#1c1c1c" stroke-width="2.25" fill="none"/><path d="M1499.79 238.25H1508.79" stroke="#1c1c1c" stroke-width="1.8" fill="none"/>
<path d="M1492.69 258.6L1494.03 257.3M1492.69 268.75L1504.49 257.3M1492.69 278.9L1514.96 257.3M1492.69 289.05L1515.89 266.55M1492.69 299.2L1515.89 276.7M1492.69 309.35L1515.89 286.85M1492.69 319.5L1515.89 297M1492.69 329.65L1515.89 307.15M1492.69 339.8L1515.89 317.3M1492.69 349.95L1515.89 327.45M1492.69 360.1L1515.89 337.6M1492.69 370.25L1515.89 347.75M1497.31 375.92L1515.89 357.9M1507.77 375.92L1515.89 368.05" stroke="#1c1c1c" stroke-width="1.8" fill="none"/>
<path d="M1492.69 375.92V257.3H1515.89V375.92" stroke="#1c1c1c" stroke-width="2.2" fill="none" stroke-linejoin="round"/>
<text class="lt" transform="translate(1504.39 235.15) rotate(0.03)">b</text>
<rect x="1080.95" y="9.65" width="452.02" height="366.27" fill="none" stroke="#1c1c1c" stroke-width="2.2"/>
<path d="M1073.35 9.65H1080.95M1073.35 101.22H1080.95M1073.35 192.79H1080.95M1073.35 284.35H1080.95M1073.35 375.92H1080.95" stroke="#1c1c1c" stroke-width="2.2" fill="none"/>
<text class="tk" transform="translate(1067.7 17.8) rotate(0.03) scale(0.95 1)">16</text>
<text class="tk" transform="translate(1067.7 109.37) rotate(0.03) scale(0.95 1)">12</text>
<text class="tk" transform="translate(1067.25 200.94) rotate(0.03) scale(0.95 1)">8</text>
<text class="tk" transform="translate(1067.25 292.5) rotate(0.03) scale(0.95 1)">4</text>
<text class="tk" transform="translate(1067.25 384.07) rotate(0.03) scale(0.95 1)">0</text>
<text class="xl" transform="translate(1137.45 395) rotate(0.03)">M. veneriformis</text>
<text class="xl" transform="translate(1250.46 395) rotate(0.03)">R. philippinarum</text>
<text class="xl" transform="translate(1363.46 395) rotate(0.03)">M. pethechialis</text>
<text class="xl" transform="translate(1476.47 395) rotate(0.03)">C. sinensis</text>
<text class="pl" transform="translate(1086.1 35.1) rotate(0.03)">C</text>
</g>
<g id="panel-D">
<path d="M120.91 705.55V677.85" stroke="#ee1c25" stroke-width="2.1" fill="none"/><path d="M116.41 678.25H125.41" stroke="#ee1c25" stroke-width="1.8" fill="none"/>
<path d="M109.31 706.85L110.65 705.55M109.31 717L121.11 705.55M109.31 727.15L131.58 705.55M109.31 737.3L132.51 714.8M109.31 747.45L132.51 724.95M109.31 757.6L132.51 735.1M109.31 767.75L132.51 745.25M109.31 777.9L132.51 755.4M109.31 788.05L132.51 765.55M117.25 790.5L132.51 775.7M127.71 790.5L132.51 785.85" stroke="#ee1c25" stroke-width="1.7" fill="none"/>
<path d="M109.31 790.5V705.55H132.51V790.5" stroke="#ee1c25" stroke-width="2.1" fill="none" stroke-linejoin="round"/>
<text class="lt" transform="translate(121.41 676.15) rotate(0.03)">a</text>
<path d="M149.03 729.8V711.1" stroke="#3f54a5" stroke-width="2.25" fill="none"/><path d="M144.53 711.5H153.53" stroke="#3f54a5" stroke-width="1.8" fill="none"/>
<path d="M158.35 729.8L160.63 732M147.89 729.8L160.63 742.15M137.43 729.8L160.63 752.3M137.43 739.95L160.63 762.45M137.43 750.1L160.63 772.6M137.43 760.25L160.63 782.75M137.43 770.4L158.15 790.5M137.43 780.55L147.68 790.5" stroke="#3f54a5" stroke-width="1.9" fill="none"/>
<path d="M137.43 790.5V729.8H160.63V790.5" stroke="#3f54a5" stroke-width="2.35" fill="none" stroke-linejoin="round"/>
<text class="lt" transform="translate(149.63 711.15) rotate(0.03)">ab</text>
<path d="M177.14 744.8V725.6" stroke="#1c1c1c" stroke-width="2.25" fill="none"/><path d="M172.64 726H181.64" stroke="#1c1c1c" stroke-width="1.8" fill="none"/>
<path d="M165.54 746.1L166.88 744.8M165.54 756.25L177.34 744.8M165.54 766.4L187.81 744.8M165.54 776.55L188.74 754.05M165.54 786.7L188.74 764.2M172.09 790.5L188.74 774.35M182.55 790.5L188.74 784.5" stroke="#1c1c1c" stroke-width="1.8" fill="none"/>
<path d="M165.54 790.5V744.8H188.74V790.5" stroke="#1c1c1c" stroke-width="2.2" fill="none" stroke-linejoin="round"/>
<text class="lt" transform="translate(177.24 725.4) rotate(0.03)">b</text>
<path d="M235.14 729.3V722.35" stroke="#ee1c25" stroke-width="2.1" fill="none"/><path d="M230.64 722.75H239.64" stroke="#ee1c25" stroke-width="1.8" fill="none"/>
<path d="M223.54 730.6L224.88 729.3M223.54 740.75L235.34 729.3M223.54 750.9L245.81 729.3M223.54 761.05L246.74 738.55M223.54 771.2L246.74 748.7M223.54 781.35L246.74 758.85M224.57 790.5L246.74 769M235.03 790.5L246.74 779.15M245.5 790.5L246.74 789.3" stroke="#ee1c25" stroke-width="1.7" fill="none"/>
<path d="M223.54 790.5V729.3H246.74V790.5" stroke="#ee1c25" stroke-width="2.1" fill="none" stroke-linejoin="round"/>
<text class="lt" transform="translate(235.64 719.9) rotate(0.03)">a</text>
<path d="M263.26 733.3V725.1" stroke="#3f54a5" stroke-width="2.25" fill="none"/><path d="M258.76 725.5H267.76" stroke="#3f54a5" stroke-width="1.8" fill="none"/>
<path d="M272.58 733.3L274.86 735.5M262.12 733.3L274.86 745.65M251.66 733.3L274.86 755.8M251.66 743.45L274.86 765.95M251.66 753.6L274.86 776.1M251.66 763.75L274.86 786.25M251.66 773.9L268.77 790.5M251.66 784.05L258.3 790.5" stroke="#3f54a5" stroke-width="1.9" fill="none"/>
<path d="M251.66 790.5V733.3H274.86V790.5" stroke="#3f54a5" stroke-width="2.35" fill="none" stroke-linejoin="round"/>
<text class="lt" transform="translate(263.76 723.15) rotate(0.03)">a</text>
<path d="M291.37 742.8V730.6" stroke="#1c1c1c" stroke-width="2.25" fill="none"/><path d="M286.87 731H295.87" stroke="#1c1c1c" stroke-width="1.8" fill="none"/>
<path d="M279.77 744.1L281.11 742.8M279.77 754.25L291.57 742.8M279.77 764.4L302.04 742.8M279.77 774.55L302.97 752.05M279.77 784.7L302.97 762.2M284.25 790.5L302.97 772.35M294.72 790.5L302.97 782.5" stroke="#1c1c1c" stroke-width="1.8" fill="none"/>
<path d="M279.77 790.5V742.8H302.97V790.5" stroke="#1c1c1c" stroke-width="2.2" fill="none" stroke-linejoin="round"/>
<text class="lt" transform="translate(291.47 729.65) rotate(0.03)">b</text>
<path d="M349.37 756.05V745.6" stroke="#ee1c25" stroke-width="2.1" fill="none"/><path d="M344.87 746H353.87" stroke="#ee1c25" stroke-width="1.8" fill="none"/>
<path d="M337.77 757.35L339.11 756.05M337.77 767.5L349.57 756.05M337.77 777.65L360.04 756.05M337.77 787.8L360.97 765.3M345.45 790.5L360.97 775.45M355.91 790.5L360.97 785.6" stroke="#ee1c25" stroke-width="1.7" fill="none"/>
<path d="M337.77 790.5V756.05H360.97V790.5" stroke="#ee1c25" stroke-width="2.1" fill="none" stroke-linejoin="round"/>
<text class="lt" transform="translate(349.87 744.15) rotate(0.03)">a</text>
<path d="M377.49 775.55V766.85" stroke="#3f54a5" stroke-width="2.25" fill="none"/><path d="M372.99 767.25H381.99" stroke="#3f54a5" stroke-width="1.8" fill="none"/>
<path d="M386.81 775.55L389.09 777.75M376.35 775.55L389.09 787.9M365.88 775.55L381.3 790.5M365.88 785.7L370.83 790.5" stroke="#3f54a5" stroke-width="1.9" fill="none"/>
<path d="M365.88 790.5V775.55H389.09V790.5" stroke="#3f54a5" stroke-width="2.35" fill="none" stroke-linejoin="round"/>
<text class="lt" transform="translate(377.59 764.9) rotate(0.03)">b</text>
<path d="M405.6 778.05V773.6" stroke="#1c1c1c" stroke-width="2.25" fill="none"/><path d="M401.1 774H410.1" stroke="#1c1c1c" stroke-width="1.8" fill="none"/>
<path d="M394 779.35L395.34 778.05M394 789.5L405.8 778.05M403.43 790.5L416.27 778.05M413.9 790.5L417.2 787.3" stroke="#1c1c1c" stroke-width="1.8" fill="none"/>
<path d="M394 790.5V778.05H417.2V790.5" stroke="#1c1c1c" stroke-width="2.2" fill="none" stroke-linejoin="round"/>
<text class="lt" transform="translate(405.7 771.15) rotate(0.03)">b</text>
<path d="M463.6 773.05V768.8" stroke="#ee1c25" stroke-width="2.1" fill="none"/><path d="M459.1 769.2H468.1" stroke="#ee1c25" stroke-width="1.8" fill="none"/>
<path d="M452 774.35L453.34 773.05M452 784.5L463.8 773.05M456.28 790.5L474.27 773.05M466.74 790.5L475.2 782.3" stroke="#ee1c25" stroke-width="1.7" fill="none"/>
<path d="M452 790.5V773.05H475.2V790.5" stroke="#ee1c25" stroke-width="2.1" fill="none" stroke-linejoin="round"/>
<text class="lt" transform="translate(464.1 767.55) rotate(0.03)">a</text>
<path d="M491.72 779.05V774.85" stroke="#3f54a5" stroke-width="2.25" fill="none"/><path d="M487.22 775.25H496.22" stroke="#3f54a5" stroke-width="1.8" fill="none"/>
<path d="M501.04 779.05L503.32 781.25M490.58 779.05L502.38 790.5M480.12 779.05L491.92 790.5M480.12 789.2L481.46 790.5" stroke="#3f54a5" stroke-width="1.9" fill="none"/>
<path d="M480.12 790.5V779.05H503.32V790.5" stroke="#3f54a5" stroke-width="2.35" fill="none" stroke-linejoin="round"/>
<text class="lt" transform="translate(491.82 773.35) rotate(0.03)">b</text>
<path d="M519.83 779.4V776.2" stroke="#1c1c1c" stroke-width="2.25" fill="none"/><path d="M515.33 776.6H524.33" stroke="#1c1c1c" stroke-width="1.8" fill="none"/>
<path d="M508.23 780.7L509.57 779.4M508.59 790.5L520.03 779.4M519.05 790.5L530.5 779.4M529.52 790.5L531.43 788.65" stroke="#1c1c1c" stroke-width="1.8" fill="none"/>
<path d="M508.23 790.5V779.4H531.43V790.5" stroke="#1c1c1c" stroke-width="2.2" fill="none" stroke-linejoin="round"/>
<text class="lt" transform="translate(519.93 774.05) rotate(0.03)">b</text>
<rect x="92.08" y="422.22" width="456.92" height="368.28" fill="none" stroke="#1c1c1c" stroke-width="2.2"/>
<path d="M84.48 422.22H92.08M84.48 514.29H92.08M84.48 606.36H92.08M84.48 698.43H92.08M84.48 790.5H92.08" stroke="#1c1c1c" stroke-width="2.2" fill="none"/>
<text class="tk" style="font-size:27.5px" transform="translate(78.83 430.42) rotate(0.03) scale(0.89 1)">16</text>
<text class="tk" style="font-size:27.5px" transform="translate(78.83 522.49) rotate(0.03) scale(0.89 1)">12</text>
<text class="tk" style="font-size:27.5px" transform="translate(78.38 614.56) rotate(0.03) scale(0.89 1)">8</text>
<text class="tk" style="font-size:27.5px" transform="translate(78.38 706.63) rotate(0.03) scale(0.89 1)">4</text>
<text class="tk" style="font-size:27.5px" transform="translate(78.38 798.7) rotate(0.03) scale(0.89 1)">0</text>
<text class="xl" transform="translate(149.19 809) rotate(0.03)">M. veneriformis</text>
<text class="xl" transform="translate(263.43 809) rotate(0.03)">R. philippinarum</text>
<text class="xl" transform="translate(377.65 809) rotate(0.03)">M. pethechialis</text>
<text class="xl" transform="translate(491.88 809) rotate(0.03)">C. sinensis</text>
<text class="pl" transform="translate(96.3 449.95) rotate(0.03)">D</text>
</g>
<g id="panel-E">
<path d="M618.29 754.8V736.6" stroke="#ee1c25" stroke-width="2.1" fill="none"/><path d="M613.79 737H622.79" stroke="#ee1c25" stroke-width="1.8" fill="none"/>
<path d="M606.69 756.1L608.03 754.8M606.69 766.25L618.49 754.8M606.69 776.4L628.96 754.8M606.69 786.55L629.89 764.05M614.07 789.54L629.89 774.2M624.54 789.54L629.89 784.35" stroke="#ee1c25" stroke-width="1.7" fill="none"/>
<path d="M606.69 789.54V754.8H629.89V789.54" stroke="#ee1c25" stroke-width="2.1" fill="none" stroke-linejoin="round"/>
<text class="lt" transform="translate(618.79 735.9) rotate(0.03)">a</text>
<path d="M646.15 766.8V759.85" stroke="#3f54a5" stroke-width="2.25" fill="none"/><path d="M641.65 760.25H650.65" stroke="#3f54a5" stroke-width="1.8" fill="none"/>
<path d="M655.47 766.8L657.75 769M645.01 766.8L657.75 779.15M634.55 766.8L657.75 789.3M634.55 776.95L647.53 789.54M634.55 787.1L637.06 789.54" stroke="#3f54a5" stroke-width="1.9" fill="none"/>
<path d="M634.55 789.54V766.8H657.75V789.54" stroke="#3f54a5" stroke-width="2.35" fill="none" stroke-linejoin="round"/>
<text class="lt" transform="translate(646.65 757.9) rotate(0.03)">a</text>
<path d="M674 773.55V764.35" stroke="#1c1c1c" stroke-width="2.25" fill="none"/><path d="M669.5 764.75H678.5" stroke="#1c1c1c" stroke-width="1.8" fill="none"/>
<path d="M662.4 774.85L663.74 773.55M662.4 785L674.21 773.55M668.19 789.54L684.67 773.55M678.65 789.54L685.6 782.8" stroke="#1c1c1c" stroke-width="1.8" fill="none"/>
<path d="M662.4 789.54V773.55H685.6V789.54" stroke="#1c1c1c" stroke-width="2.2" fill="none" stroke-linejoin="round"/>
<text class="lt" transform="translate(674.1 763.65) rotate(0.03)">b</text>
<path d="M731.52 728.3V721.6" stroke="#ee1c25" stroke-width="2.1" fill="none"/><path d="M727.02 722H736.02" stroke="#ee1c25" stroke-width="1.8" fill="none"/>
<path d="M719.92 729.6L721.26 728.3M719.92 739.75L731.73 728.3M719.92 749.9L742.19 728.3M719.92 760.05L743.12 737.55M719.92 770.2L743.12 747.7M719.92 780.35L743.12 757.85M720.91 789.54L743.12 768M731.38 789.54L743.12 778.15M741.84 789.54L743.12 788.3" stroke="#ee1c25" stroke-width="1.7" fill="none"/>
<path d="M719.92 789.54V728.3H743.12V789.54" stroke="#ee1c25" stroke-width="2.1" fill="none" stroke-linejoin="round"/>
<text class="lt" transform="translate(732.02 719.9) rotate(0.03)">a</text>
<path d="M759.38 732.55V724.35" stroke="#3f54a5" stroke-width="2.25" fill="none"/><path d="M754.88 724.75H763.88" stroke="#3f54a5" stroke-width="1.8" fill="none"/>
<path d="M768.71 732.55L770.98 734.75M758.24 732.55L770.98 744.9M747.78 732.55L770.98 755.05M747.78 742.7L770.98 765.2M747.78 752.85L770.98 775.35M747.78 763L770.98 785.5M747.78 773.15L764.68 789.54M747.78 783.3L754.21 789.54" stroke="#3f54a5" stroke-width="1.9" fill="none"/>
<path d="M747.78 789.54V732.55H770.98V789.54" stroke="#3f54a5" stroke-width="2.35" fill="none" stroke-linejoin="round"/>
<text class="lt" transform="translate(759.98 723.65) rotate(0.03)">ab</text>
<path d="M787.24 741.8V729.85" stroke="#1c1c1c" stroke-width="2.25" fill="none"/><path d="M782.74 730.25H791.74" stroke="#1c1c1c" stroke-width="1.8" fill="none"/>
<path d="M775.63 743.1L776.98 741.8M775.63 753.25L787.44 741.8M775.63 763.4L797.9 741.8M775.63 773.55L798.84 751.05M775.63 783.7L798.84 761.2M780.08 789.54L798.84 771.35M790.54 789.54L798.84 781.5" stroke="#1c1c1c" stroke-width="1.8" fill="none"/>
<path d="M775.63 789.54V741.8H798.84V789.54" stroke="#1c1c1c" stroke-width="2.2" fill="none" stroke-linejoin="round"/>
<text class="lt" transform="translate(787.34 727.15) rotate(0.03)">b</text>
<path d="M844.75 763.3V748.6" stroke="#ee1c25" stroke-width="2.1" fill="none"/><path d="M840.25 749H849.25" stroke="#ee1c25" stroke-width="1.8" fill="none"/>
<path d="M833.15 764.6L834.5 763.3M833.15 774.75L844.96 763.3M833.15 784.9L855.42 763.3M838.84 789.54L856.35 772.55M849.3 789.54L856.35 782.7" stroke="#ee1c25" stroke-width="1.7" fill="none"/>
<path d="M833.15 789.54V763.3H856.35V789.54" stroke="#ee1c25" stroke-width="2.1" fill="none" stroke-linejoin="round"/>
<text class="lt" transform="translate(845.25 746.65) rotate(0.03)">a</text>
<path d="M872.61 775.8V771.6" stroke="#3f54a5" stroke-width="2.25" fill="none"/><path d="M868.11 772H877.11" stroke="#3f54a5" stroke-width="1.8" fill="none"/>
<path d="M881.94 775.8L884.21 778M871.48 775.8L884.21 788.15M861.01 775.8L875.18 789.54M861.01 785.95L864.71 789.54" stroke="#3f54a5" stroke-width="1.9" fill="none"/>
<path d="M861.01 789.54V775.8H884.21V789.54" stroke="#3f54a5" stroke-width="2.35" fill="none" stroke-linejoin="round"/>
<text class="lt" transform="translate(872.71 769.65) rotate(0.03)">b</text>
<path d="M900.47 779.05V774.1" stroke="#1c1c1c" stroke-width="2.25" fill="none"/><path d="M895.97 774.5H904.97" stroke="#1c1c1c" stroke-width="1.8" fill="none"/>
<path d="M888.87 780.35L890.21 779.05M889.86 789.54L900.67 779.05M900.32 789.54L911.14 779.05M910.79 789.54L912.07 788.3" stroke="#1c1c1c" stroke-width="1.8" fill="none"/>
<path d="M888.87 789.54V779.05H912.07V789.54" stroke="#1c1c1c" stroke-width="2.2" fill="none" stroke-linejoin="round"/>
<text class="lt" transform="translate(900.57 772.05) rotate(0.03)">b</text>
<path d="M957.99 770.8V767.35" stroke="#ee1c25" stroke-width="2.1" fill="none"/><path d="M953.49 767.75H962.49" stroke="#ee1c25" stroke-width="1.8" fill="none"/>
<path d="M946.39 772.1L947.73 770.8M946.39 782.25L958.19 770.8M949.34 789.54L968.66 770.8M959.8 789.54L969.59 780.05" stroke="#ee1c25" stroke-width="1.7" fill="none"/>
<path d="M946.39 789.54V770.8H969.59V789.54" stroke="#ee1c25" stroke-width="2.1" fill="none" stroke-linejoin="round"/>
<text class="lt" transform="translate(958.49 765.4) rotate(0.03)">a</text>
<path d="M985.84 773V770.35" stroke="#3f54a5" stroke-width="2.25" fill="none"/><path d="M981.34 770.75H990.34" stroke="#3f54a5" stroke-width="1.8" fill="none"/>
<path d="M995.17 773L997.44 775.2M984.71 773L997.44 785.35M974.24 773L991.3 789.54M974.24 783.15L980.83 789.54" stroke="#3f54a5" stroke-width="1.9" fill="none"/>
<path d="M974.24 789.54V773H997.44V789.54" stroke="#3f54a5" stroke-width="2.35" fill="none" stroke-linejoin="round"/>
<text class="lt" transform="translate(986.44 768.4) rotate(0.03)">ab</text>
<path d="M1013.7 774.7V773.1" stroke="#1c1c1c" stroke-width="2.25" fill="none"/><path d="M1009.2 773.5H1018.2" stroke="#1c1c1c" stroke-width="1.8" fill="none"/>
<path d="M1002.1 776L1003.44 774.7M1002.1 786.15L1013.9 774.7M1009.07 789.54L1024.37 774.7M1019.53 789.54L1025.3 783.95" stroke="#1c1c1c" stroke-width="1.8" fill="none"/>
<path d="M1002.1 789.54V774.7H1025.3V789.54" stroke="#1c1c1c" stroke-width="2.2" fill="none" stroke-linejoin="round"/>
<text class="lt" transform="translate(1013.8 771.45) rotate(0.03)">b</text>
<rect x="589.62" y="424.5" width="452.93" height="365.04" fill="none" stroke="#1c1c1c" stroke-width="2.2"/>
<path d="M582.02 424.5H589.62M582.02 515.76H589.62M582.02 607.02H589.62M582.02 698.28H589.62M582.02 789.54H589.62" stroke="#1c1c1c" stroke-width="2.2" fill="none"/>
<text class="tk" transform="translate(576.37 432.45) rotate(0.03) scale(0.95 1)">16</text>
<text class="tk" transform="translate(576.37 523.71) rotate(0.03) scale(0.95 1)">12</text>
<text class="tk" transform="translate(575.92 614.97) rotate(0.03) scale(0.95 1)">8</text>
<text class="tk" transform="translate(575.92 706.23) rotate(0.03) scale(0.95 1)">4</text>
<text class="tk" transform="translate(575.92 797.49) rotate(0.03) scale(0.95 1)">0</text>
<text class="xl" transform="translate(646.24 808) rotate(0.03)">M. veneriformis</text>
<text class="xl" transform="translate(759.47 808) rotate(0.03)">R. philippinarum</text>
<text class="xl" transform="translate(872.7 808) rotate(0.03)">M. pethechialis</text>
<text class="xl" transform="translate(985.93 808) rotate(0.03)">C. sinensis</text>
<text class="pl" transform="translate(593.4 450) rotate(0.03)">E</text>
</g>
<g id="panel-F">
<path d="M1110.4 571.55V469.6" stroke="#ee1c25" stroke-width="2.1" fill="none"/><path d="M1105.9 470H1114.9" stroke="#ee1c25" stroke-width="1.8" fill="none"/>
<path d="M1098.8 572.85L1100.14 571.55M1098.8 583L1110.6 571.55M1098.8 593.15L1121.07 571.55M1098.8 603.3L1122 580.8M1098.8 613.45L1122 590.95M1098.8 623.6L1122 601.1M1098.8 633.75L1122 611.25M1098.8 643.9L1122 621.4M1098.8 654.05L1122 631.55M1098.8 664.2L1122 641.7M1098.8 674.35L1122 651.85M1098.8 684.5L1122 662M1098.8 694.65L1122 672.15M1098.8 704.8L1122 682.3M1098.8 714.95L1122 692.45M1098.8 725.1L1122 702.6M1098.8 735.25L1122 712.75M1098.8 745.4L1122 722.9M1098.8 755.55L1122 733.05M1098.8 765.7L1122 743.2M1098.8 775.85L1122 753.35M1098.8 786L1122 763.5M1106.44 788.74L1122 773.65M1116.9 788.74L1122 783.8" stroke="#ee1c25" stroke-width="1.7" fill="none"/>
<path d="M1098.8 788.74V571.55H1122V788.74" stroke="#ee1c25" stroke-width="2.1" fill="none" stroke-linejoin="round"/>
<text class="lt" transform="translate(1110.9 468.9) rotate(0.03)">a</text>
<path d="M1138.3 674.3V628.6" stroke="#3f54a5" stroke-width="2.25" fill="none"/><path d="M1133.8 629H1142.8" stroke="#3f54a5" stroke-width="1.8" fill="none"/>
<path d="M1147.63 674.3L1149.9 676.5M1137.16 674.3L1149.9 686.65M1126.7 674.3L1149.9 696.8M1126.7 684.45L1149.9 706.95M1126.7 694.6L1149.9 717.1M1126.7 704.75L1149.9 727.25M1126.7 714.9L1149.9 737.4M1126.7 725.05L1149.9 747.55M1126.7 735.2L1149.9 757.7M1126.7 745.35L1149.9 767.85M1126.7 755.5L1149.9 778M1126.7 765.65L1149.9 788.15M1126.7 775.8L1140.04 788.74M1126.7 785.95L1129.58 788.74" stroke="#3f54a5" stroke-width="1.9" fill="none"/>
<path d="M1126.7 788.74V674.3H1149.9V788.74" stroke="#3f54a5" stroke-width="2.35" fill="none" stroke-linejoin="round"/>
<text class="lt" transform="translate(1138.4 626.4) rotate(0.03)">b</text>
<path d="M1166.2 728.05V702.85" stroke="#1c1c1c" stroke-width="2.25" fill="none"/><path d="M1161.7 703.25H1170.7" stroke="#1c1c1c" stroke-width="1.8" fill="none"/>
<path d="M1154.6 729.35L1155.94 728.05M1154.6 739.5L1166.4 728.05M1154.6 749.65L1176.87 728.05M1154.6 759.8L1177.8 737.3M1154.6 769.95L1177.8 747.45M1154.6 780.1L1177.8 757.6M1156.16 788.74L1177.8 767.75M1166.62 788.74L1177.8 777.9M1177.08 788.74L1177.8 788.05" stroke="#1c1c1c" stroke-width="1.8" fill="none"/>
<path d="M1154.6 788.74V728.05H1177.8V788.74" stroke="#1c1c1c" stroke-width="2.2" fill="none" stroke-linejoin="round"/>
<text class="lt" transform="translate(1166.5 700.4) rotate(0.03)">c</text>
<path d="M1223.5 669.05V649.85" stroke="#ee1c25" stroke-width="2.1" fill="none"/><path d="M1219 650.25H1228" stroke="#ee1c25" stroke-width="1.8" fill="none"/>
<path d="M1211.9 670.35L1213.24 669.05M1211.9 680.5L1223.7 669.05M1211.9 690.65L1234.17 669.05M1211.9 700.8L1235.1 678.3M1211.9 710.95L1235.1 688.45M1211.9 721.1L1235.1 698.6M1211.9 731.25L1235.1 708.75M1211.9 741.4L1235.1 718.9M1211.9 751.55L1235.1 729.05M1211.9 761.7L1235.1 739.2M1211.9 771.85L1235.1 749.35M1211.9 782L1235.1 759.5M1215.42 788.74L1235.1 769.65M1225.88 788.74L1235.1 779.8" stroke="#ee1c25" stroke-width="1.7" fill="none"/>
<path d="M1211.9 788.74V669.05H1235.1V788.74" stroke="#ee1c25" stroke-width="2.1" fill="none" stroke-linejoin="round"/>
<text class="lt" transform="translate(1224 648.65) rotate(0.03)">a</text>
<path d="M1251.4 689.3V654.85" stroke="#3f54a5" stroke-width="2.25" fill="none"/><path d="M1246.9 655.25H1255.9" stroke="#3f54a5" stroke-width="1.8" fill="none"/>
<path d="M1260.73 689.3L1263 691.5M1250.26 689.3L1263 701.65M1239.8 689.3L1263 711.8M1239.8 699.45L1263 721.95M1239.8 709.6L1263 732.1M1239.8 719.75L1263 742.25M1239.8 729.9L1263 752.4M1239.8 740.05L1263 762.55M1239.8 750.2L1263 772.7M1239.8 760.35L1263 782.85M1239.8 770.5L1258.6 788.74M1239.8 780.65L1248.14 788.74" stroke="#3f54a5" stroke-width="1.9" fill="none"/>
<path d="M1239.8 788.74V689.3H1263V788.74" stroke="#3f54a5" stroke-width="2.35" fill="none" stroke-linejoin="round"/>
<text class="lt" transform="translate(1252 653.65) rotate(0.03)">ab</text>
<path d="M1279.3 715.05V691.85" stroke="#1c1c1c" stroke-width="2.25" fill="none"/><path d="M1274.8 692.25H1283.8" stroke="#1c1c1c" stroke-width="1.8" fill="none"/>
<path d="M1267.7 716.35L1269.04 715.05M1267.7 726.5L1279.5 715.05M1267.7 736.65L1289.97 715.05M1267.7 746.8L1290.9 724.3M1267.7 756.95L1290.9 734.45M1267.7 767.1L1290.9 744.6M1267.7 777.25L1290.9 754.75M1267.7 787.4L1290.9 764.9M1276.78 788.74L1290.9 775.05M1287.25 788.74L1290.9 785.2" stroke="#1c1c1c" stroke-width="1.8" fill="none"/>
<path d="M1267.7 788.74V715.05H1290.9V788.74" stroke="#1c1c1c" stroke-width="2.2" fill="none" stroke-linejoin="round"/>
<text class="lt" transform="translate(1279.4 690.4) rotate(0.03)">b</text>
<path d="M1336.6 589.8V520.35" stroke="#ee1c25" stroke-width="2.1" fill="none"/><path d="M1332.1 520.75H1341.1" stroke="#ee1c25" stroke-width="1.8" fill="none"/>
<path d="M1325 591.1L1326.34 589.8M1325 601.25L1336.8 589.8M1325 611.4L1347.27 589.8M1325 621.55L1348.2 599.05M1325 631.7L1348.2 609.2M1325 641.85L1348.2 619.35M1325 652L1348.2 629.5M1325 662.15L1348.2 639.65M1325 672.3L1348.2 649.8M1325 682.45L1348.2 659.95M1325 692.6L1348.2 670.1M1325 702.75L1348.2 680.25M1325 712.9L1348.2 690.4M1325 723.05L1348.2 700.55M1325 733.2L1348.2 710.7M1325 743.35L1348.2 720.85M1325 753.5L1348.2 731M1325 763.65L1348.2 741.15M1325 773.8L1348.2 751.3M1325 783.95L1348.2 761.45M1330.53 788.74L1348.2 771.6M1340.99 788.74L1348.2 781.75" stroke="#ee1c25" stroke-width="1.7" fill="none"/>
<path d="M1325 788.74V589.8H1348.2V788.74" stroke="#ee1c25" stroke-width="2.1" fill="none" stroke-linejoin="round"/>
<text class="lt" transform="translate(1337.1 519.65) rotate(0.03)">a</text>
<path d="M1364.5 738.8V697.6" stroke="#3f54a5" stroke-width="2.25" fill="none"/><path d="M1360 698H1369" stroke="#3f54a5" stroke-width="1.8" fill="none"/>
<path d="M1373.83 738.8L1376.1 741M1363.36 738.8L1376.1 751.15M1352.9 738.8L1376.1 761.3M1352.9 748.95L1376.1 771.45M1352.9 759.1L1376.1 781.6M1352.9 769.25L1372.99 788.74M1352.9 779.4L1362.53 788.74" stroke="#3f54a5" stroke-width="1.9" fill="none"/>
<path d="M1352.9 788.74V738.8H1376.1V788.74" stroke="#3f54a5" stroke-width="2.35" fill="none" stroke-linejoin="round"/>
<text class="lt" transform="translate(1364.6 694.9) rotate(0.03)">b</text>
<path d="M1392.4 726.3V686.1" stroke="#1c1c1c" stroke-width="2.25" fill="none"/><path d="M1387.9 686.5H1396.9" stroke="#1c1c1c" stroke-width="1.8" fill="none"/>
<path d="M1380.8 727.6L1382.14 726.3M1380.8 737.75L1392.6 726.3M1380.8 747.9L1403.07 726.3M1380.8 758.05L1404 735.55M1380.8 768.2L1404 745.7M1380.8 778.35L1404 755.85M1380.8 788.5L1404 766M1391.02 788.74L1404 776.15M1401.48 788.74L1404 786.3" stroke="#1c1c1c" stroke-width="1.8" fill="none"/>
<path d="M1380.8 788.74V726.3H1404V788.74" stroke="#1c1c1c" stroke-width="2.2" fill="none" stroke-linejoin="round"/>
<text class="lt" transform="translate(1392.5 684.15) rotate(0.03)">b</text>
<path d="M1449.7 742.05V730.1" stroke="#ee1c25" stroke-width="2.1" fill="none"/><path d="M1445.2 730.5H1454.2" stroke="#ee1c25" stroke-width="1.8" fill="none"/>
<path d="M1438.1 743.35L1439.44 742.05M1438.1 753.5L1449.9 742.05M1438.1 763.65L1460.37 742.05M1438.1 773.8L1461.3 751.3M1438.1 783.95L1461.3 761.45M1443.63 788.74L1461.3 771.6M1454.09 788.74L1461.3 781.75" stroke="#ee1c25" stroke-width="1.7" fill="none"/>
<path d="M1438.1 788.74V742.05H1461.3V788.74" stroke="#ee1c25" stroke-width="2.1" fill="none" stroke-linejoin="round"/>
<text class="lt" transform="translate(1450.2 727.9) rotate(0.03)">a</text>
<path d="M1477.6 753.05V742.6" stroke="#3f54a5" stroke-width="2.25" fill="none"/><path d="M1473.1 743H1482.1" stroke="#3f54a5" stroke-width="1.8" fill="none"/>
<path d="M1486.93 753.05L1489.2 755.25M1476.46 753.05L1489.2 765.4M1466 753.05L1489.2 775.55M1466 763.2L1489.2 785.7M1466 773.35L1481.87 788.74M1466 783.5L1471.4 788.74" stroke="#3f54a5" stroke-width="1.9" fill="none"/>
<path d="M1466 788.74V753.05H1489.2V788.74" stroke="#3f54a5" stroke-width="2.35" fill="none" stroke-linejoin="round"/>
<text class="lt" transform="translate(1478.2 741.15) rotate(0.03)">ab</text>
<path d="M1505.5 754.8V746.85" stroke="#1c1c1c" stroke-width="2.25" fill="none"/><path d="M1501 747.25H1510" stroke="#1c1c1c" stroke-width="1.8" fill="none"/>
<path d="M1493.9 756.1L1495.24 754.8M1493.9 766.25L1505.7 754.8M1493.9 776.4L1516.17 754.8M1493.9 786.55L1517.1 764.05M1502.11 788.74L1517.1 774.2M1512.57 788.74L1517.1 784.35" stroke="#1c1c1c" stroke-width="1.8" fill="none"/>
<path d="M1493.9 788.74V754.8H1517.1V788.74" stroke="#1c1c1c" stroke-width="2.2" fill="none" stroke-linejoin="round"/>
<text class="lt" transform="translate(1505.6 744.9) rotate(0.03)">b</text>
<rect x="1081.7" y="423.94" width="452.4" height="364.8" fill="none" stroke="#1c1c1c" stroke-width="2.2"/>
<path d="M1074.1 423.94H1081.7M1074.1 515.14H1081.7M1074.1 606.34H1081.7M1074.1 697.54H1081.7M1074.1 788.74H1081.7" stroke="#1c1c1c" stroke-width="2.2" fill="none"/>
<text class="tk" transform="translate(1068.45 432.14) rotate(0.03) scale(0.95 1)">16</text>
<text class="tk" transform="translate(1068.45 523.34) rotate(0.03) scale(0.95 1)">12</text>
<text class="tk" transform="translate(1068 614.54) rotate(0.03) scale(0.95 1)">8</text>
<text class="tk" transform="translate(1068 705.74) rotate(0.03) scale(0.95 1)">4</text>
<text class="tk" transform="translate(1068 796.94) rotate(0.03) scale(0.95 1)">0</text>
<text class="xl" transform="translate(1138.25 808) rotate(0.03)">M. veneriformis</text>
<text class="xl" transform="translate(1251.35 808) rotate(0.03)">R. philippinarum</text>
<text class="xl" transform="translate(1364.45 808) rotate(0.03)">M. pethechialis</text>
<text class="xl" transform="translate(1477.55 808) rotate(0.03)">C. sinensis</text>
<text class="pl" transform="translate(1086 450) rotate(0.03)">F</text>
</g>
<text class="yl" style="font-size:25.2px;letter-spacing:-0.55px" transform="translate(17.9 197.22) rotate(-89.97)">MPs abundance</text>
<text class="yl" style="font-size:25.2px;letter-spacing:-0.55px" transform="translate(48 197.22) rotate(-89.97)">(items/individual)</text>
<text class="yl" style="font-size:25.4px;letter-spacing:-0.55px" transform="translate(18.1 607.83) rotate(-89.97)">MPs abundance</text>
<text class="yl" style="font-size:25.6px;letter-spacing:-0.55px" transform="translate(49.5 608.12) rotate(-89.97)">(items/g)</text>
<text class="ct" transform="translate(316.4 848.1) rotate(0.03)">Nantong</text>
<text class="ct" transform="translate(820.3 848.1) rotate(0.03)">Yancheng</text>
<text class="ct" transform="translate(1303.6 848.1) rotate(0.03)">Lianyungang</text>
<g id="legend">
<path d="M1337.8 21.83L1339.72 19.75M1337.8 32.53L1349.63 19.75M1338.75 42.2L1359.54 19.75M1348.66 42.2L1369.44 19.75M1358.56 42.2L1379.35 19.75M1368.47 42.2L1383.65 25.81M1378.38 42.2L1383.65 36.51" stroke="#ee1c25" stroke-width="1.7" fill="none"/>
<rect x="1337.8" y="19.75" width="45.85" height="22.45" fill="none" stroke="#ee1c25" stroke-width="2.1" stroke-linejoin="round"/>
<text class="lg" transform="translate(1389.2 38.3) rotate(0.03)">High-tide zone</text>
<path d="M1378.38 47.9L1383.65 53.59M1368.47 47.9L1383.65 64.29M1358.56 47.9L1379.26 70.25M1348.66 47.9L1369.35 70.25M1338.75 47.9L1359.44 70.25M1337.8 57.57L1349.54 70.25M1337.8 68.27L1339.63 70.25" stroke="#3f54a5" stroke-width="1.9" fill="none"/>
<rect x="1337.8" y="47.9" width="45.85" height="22.35" fill="none" stroke="#3f54a5" stroke-width="2.35" stroke-linejoin="round"/>
<text class="lg" transform="translate(1389.2 66.2) rotate(0.03)">Middle-tide zone</text>
<path d="M1337.8 77.88L1339.63 75.9M1337.8 88.58L1349.54 75.9M1338.75 98.25L1359.44 75.9M1348.66 98.25L1369.35 75.9M1358.56 98.25L1379.26 75.9M1368.47 98.25L1383.65 81.86M1378.38 98.25L1383.65 92.56" stroke="#1c1c1c" stroke-width="1.8" fill="none"/>
<rect x="1337.8" y="75.9" width="45.85" height="22.35" fill="none" stroke="#1c1c1c" stroke-width="2.2" stroke-linejoin="round"/>
<text class="lg" transform="translate(1389.2 94) rotate(0.03)">Low-tide zone</text>
</g>
</svg></body></html>
